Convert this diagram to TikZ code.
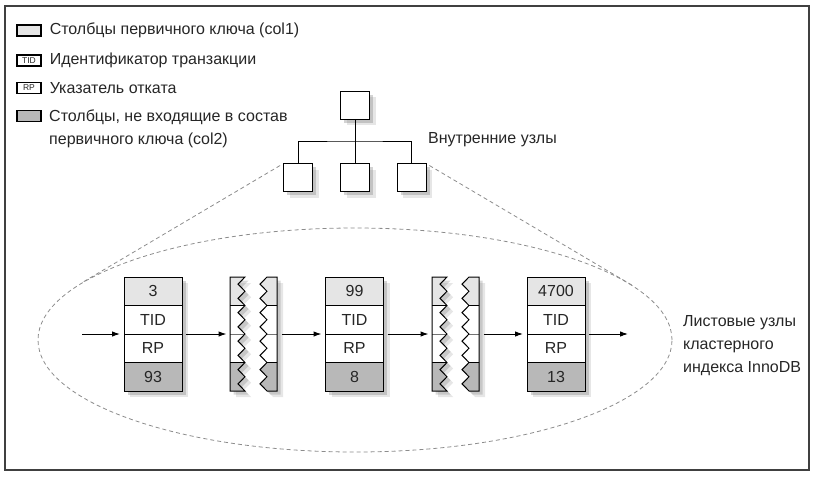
\documentclass[tikz,border=0pt]{standalone}
\usepackage{fontspec}
\setmainfont{Liberation Sans}
\usetikzlibrary{positioning,shapes.geometric,shadows,arrows.meta}

\definecolor{keygray}{gray}{0.9}
\definecolor{colgray}{gray}{0.72}
\definecolor{shadegray}{gray}{0.5}

% torn page halves, local coordinates round the gap centre
\newcommand\tornleft{(-24,-57) -- (-9,-57) \foreach \j in {1,...,8}{ -- (-16,-57+14.25*\j-7.125) -- (-9,-57+14.25*\j)} -- (-24,57) -- cycle}
\newcommand\tornright{(23,-57) -- (13,-57) \foreach \j in {1,...,8}{ -- (6,-57+14.25*\j-7.125) -- (13,-57+14.25*\j)} -- (23,57) -- cycle}

\begin{document}
\begin{tikzpicture}[x=1pt,y=-1pt, font=\fontsize{16}{23}\selectfont, text=black!85,
    box/.style={draw, fill=white, line width=1pt, minimum width=29pt, minimum height=28pt,
      inner sep=0pt, outer sep=0pt,
      drop shadow={shadow xshift=6pt, shadow yshift=-6pt, fill=shadegray, opacity=0.2},
      drop shadow={shadow xshift=3.5pt, shadow yshift=-3.5pt, fill=shadegray, opacity=0.35}},
    cell/.style={box, fill=white, minimum width=58pt, minimum height=28.5pt},
    icon/.style={draw, line width=1.1pt, minimum width=24pt, minimum height=11pt, inner sep=0pt,
      font=\fontsize{8.5}{8.5}\selectfont},
    legend/.style={inner sep=0pt, align=left},
    tear/.style={minimum width=47pt, minimum height=114pt, inner sep=0pt, outer sep=0pt},
    hint/.style={draw=black!45, dashed, dash pattern=on 4pt off 3pt, line width=0.8pt},
    flow/.style={-{Latex[length=8pt,width=5.5pt]}, line width=1pt, shorten <=4pt, shorten >=4pt}]

  \useasboundingbox (0,0) rectangle (818,479);
  \draw[line width=1.4pt, black!75] (5,6) rectangle (809,470);

  % legend
  \node[icon, fill=keygray] (lg-key) at (29,30.5) {};
  \node[icon] (lg-tid) at (29,60.5) {TID};
  \node[icon] (lg-rp) at (29,88) {RP};
  \node[icon, fill=colgray] (lg-col) at (29,116) {};
  \node[legend, right=8pt of lg-key] (lgt-key) {Столбцы первичного ключа (col1)};
  \node[legend, right=8pt of lg-tid] (lgt-tid) {Идентификатор транзакции};
  \node[legend, right=8pt of lg-rp] (lgt-rp) {Указатель отката};
  \node[legend, anchor=north west] (lgt-col) at (49,110) {Столбцы, не входящие в состав\\первичного ключа (col2)};

  % leaf level outline
  \node[hint, ellipse, minimum width=634pt, minimum height=224pt, inner sep=0pt] (leafs) at (355,340) {};

  % inner nodes
  \node[box] (root) at (355,105) {};
  \node[box] (kid1) at (298,177.5) {};
  \node[box] (kid2) at (355,177.5) {};
  \node[box] (kid3) at (411.5,177.5) {};
  \coordinate (fork) at (355,141);
  \draw[line width=1pt] (root) -- (fork);
  \draw[line width=1pt] (kid1.north) |- (fork) -| (kid3.north);
  \draw[line width=1pt] (fork) -- (kid2);
  \node[legend, anchor=west] (inner) at (428,140) {Внутренние узлы};

  \draw[hint, shorten <=4pt] (kid1.north west) -- (leafs.168.15);
  \draw[hint, shorten <=4pt] (kid3.north east) -- (leafs.11.85);

  % leaf pages
  \foreach \x/\key/\col [count=\i] in {153/3/93, 354.5/99/8, 556/4700/13}{
    \node[cell, fill=keygray] (pg\i-key) at (\x,291.25) {\key};
    \node[cell, below=0pt of pg\i-key] (pg\i-tid) {TID};
    \node[cell, below=0pt of pg\i-tid] (pg\i-rp) {RP};
    \node[cell, fill=colgray, below=0pt of pg\i-rp] (pg\i-col) {\col};
  }

  % skipped pages
  \foreach \c [count=\i] in {254,456}{
    \begin{scope}[shift={(\c,334)}]
      \node[tear] (tear\i) at (0,0) {};
      \fill[shadegray, opacity=0.2, shift={(6,6)}] \tornleft;
      \fill[shadegray, opacity=0.2, shift={(6,6)}] \tornright;
      \fill[shadegray, opacity=0.3, shift={(3.5,3.5)}] \tornleft;
      \fill[shadegray, opacity=0.3, shift={(3.5,3.5)}] \tornright;
      \begin{scope}
        \clip \tornleft;
        \fill[keygray] (-30,-57) rectangle (30,-28.5);
        \fill[white] (-30,-28.5) rectangle (30,28.5);
        \fill[colgray] (-30,28.5) rectangle (30,57);
        \draw[line width=1pt] (-30,-28.5) -- (30,-28.5) (-30,28.5) -- (30,28.5);
        \draw[line width=1pt, black!55] (-30,0) -- (30,0);
      \end{scope}
      \begin{scope}
        \clip \tornright;
        \fill[keygray] (-30,-57) rectangle (30,-28.5);
        \fill[white] (-30,-28.5) rectangle (30,28.5);
        \fill[colgray] (-30,28.5) rectangle (30,57);
        \draw[line width=1pt] (-30,-28.5) -- (30,-28.5) (-30,28.5) -- (30,28.5);
        \draw[line width=1pt, black!55] (-30,0) -- (30,0);
      \end{scope}
      \draw[line width=1pt] \tornleft;
      \draw[line width=1pt] \tornright;
    \end{scope}
  }

  % chain of leaves
  \coordinate (entry) at (78,334);
  \coordinate (exit) at (632,334);
  \draw[flow] (entry) -- (pg1-tid.south west);
  \draw[flow] (pg1-tid.south east) -- (tear1.west);
  \draw[flow] (tear1.east) -- (pg2-tid.south west);
  \draw[flow] (pg2-tid.south east) -- (tear2.west);
  \draw[flow] (tear2.east) -- (pg3-tid.south west);
  \draw[flow] (pg3-tid.south east) -- (exit);

  \node[legend, anchor=west] (leaftext) at (683,346) {Листовые узлы\\кластерного\\индекса InnoDB};
\end{tikzpicture}
\end{document}
